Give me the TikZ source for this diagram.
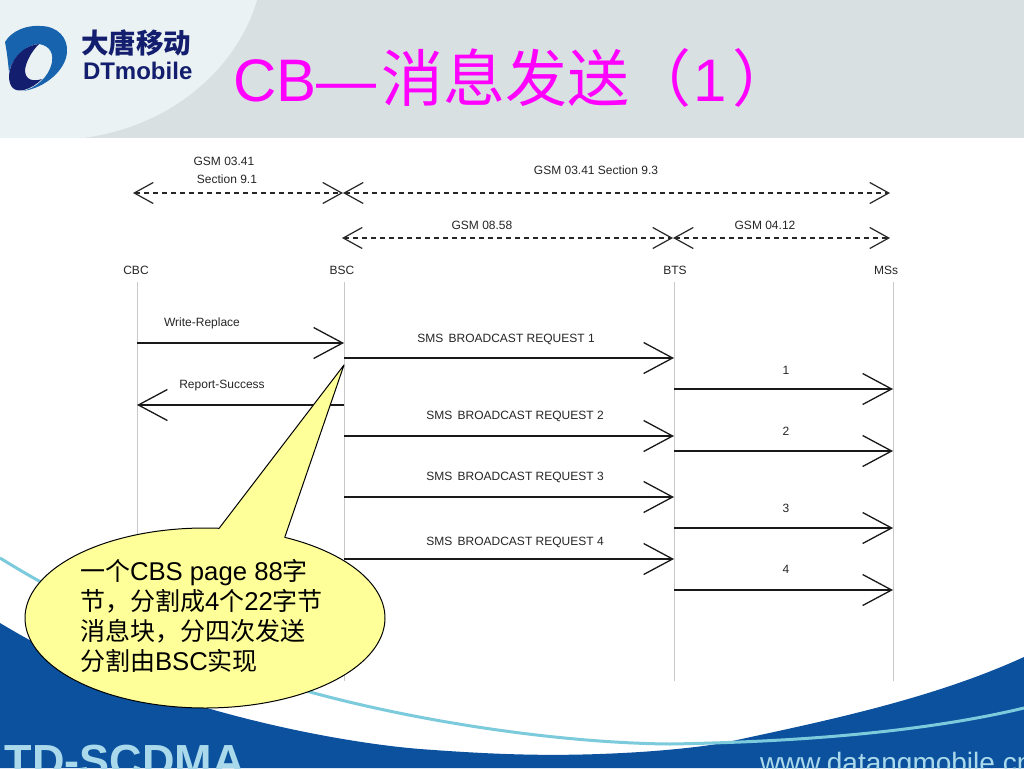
\documentclass[tikz,border=0pt]{standalone}
\usepackage{fontspec}
\setmainfont{Liberation Sans}
\newfontfamily\cjk{Noto Sans CJK SC}
\usetikzlibrary{arrows.meta}
\definecolor{bannerdark}{HTML}{D9E0E2}
\definecolor{bannerlight}{HTML}{EAF2F3}
\definecolor{waveblue}{HTML}{0B519E}
\definecolor{waveline}{HTML}{7CCBDC}
\definecolor{palecyan}{HTML}{A9D9EA}
\definecolor{logoblue}{HTML}{1763AE}
\definecolor{logonavy}{HTML}{141E6E}
\definecolor{calloutfill}{HTML}{FFFF99}
\definecolor{lifegray}{HTML}{C8C8C8}
\definecolor{titlemag}{HTML}{FF00FF}
\tikzset{
  x=1pt,y=-1pt,
  every node/.style={inner sep=0pt,outer sep=0pt},
  lab/.style={font=\fontsize{12}{14}\selectfont,text=black!85,anchor=center},
  life/.style={draw=lifegray,line width=1pt},
  msg/.style={draw=black!90,line width=1.3pt,-{Straight Barb[length=29pt,width=31pt,line width=1.3pt]}},
  span/.style={draw=black!85,line width=1.2pt,dash pattern=on 5.5pt off 3.5pt,
     {Straight Barb[length=19pt,width=21pt,line width=1.2pt]}-{Straight Barb[length=19pt,width=21pt,line width=1.2pt]}},
}
\begin{document}
\begin{tikzpicture}
\useasboundingbox (0,0) rectangle (1024,768);
\clip (0,0) rectangle (1024,768);
\fill[white] (0,0) rectangle (1024,768);
% banner
\fill[bannerdark] (0,0) rectangle (1024,138);
\fill[bannerlight] (0,0) -- (257,0) .. controls (240,60) and (180,125) .. (83,138) -- (0,138) -- cycle;
% logo
\fill[logoblue] (5,42) .. controls (12,30) and (28,25) .. (40,26) .. controls (58,26) and (68,38) .. (67,52)
  .. controls (66,70) and (45,88) .. (23,91) .. controls (35,88) and (49,78) .. (52,62)
  .. controls (54,50) and (46,44) .. (37,44) .. controls (25,46) and (12,58) .. (9,72)
  .. controls (8,62) and (7,52) .. (5,42) -- cycle;
\fill[logonavy] (39,44) .. controls (22,46) and (10,60) .. (9,76) .. controls (9,88) and (15,92) .. (24,90)
  .. controls (31,88) and (37,84) .. (42,79) .. controls (33,82) and (25,80) .. (25,70)
  .. controls (26,62) and (31,52) .. (39,44) -- cycle;
\node[anchor=base west,text=logonavy] (logocn) at (81,54) {\fontsize{27.5}{30}\selectfont\cjk\bfseries 大唐移动};
\node[anchor=base west,text=logonavy] (logoen) at (83,79) {\fontsize{24}{26}\selectfont\bfseries DTmobile};
% title
\node[anchor=base west,text=titlemag] (title) at (233,101) {\fontsize{60}{66}\selectfont CB—\kern5.5pt{\fontsize{62}{66}\selectfont\cjk 消息发送（}\kern2pt 1\kern5pt{\fontsize{62}{66}\selectfont\cjk ）}};
% waves
\fill[waveblue] (0,623) .. controls (70,665) and (140,695) .. (207,708)
  .. controls (290,732) and (370,745) .. (420,749) .. controls (500,755) and (560,757) .. (640,752)
  .. controls (670,750) and (700,747) .. (723,743) .. controls (820,722) and (930,700) .. (1024,657)
  -- (1024,768) -- (0,768) -- cycle;
\draw[waveline,line width=3pt] (0,558) .. controls (100,620) and (220,670) .. (310,692)
  .. controls (420,722) and (560,743) .. (670,744) .. controls (790,742) and (920,733) .. (1024,708);
\node[anchor=base west,text=palecyan] (tdscdma) at (5,776) {\fontsize{45}{48}\selectfont\bfseries TD-SCDMA};
\node[anchor=base west,text=palecyan] (website) at (760,772) {\fontsize{28}{30}\selectfont www.datangmobile.cn};
% lifelines
\coordinate (cbctop) at (137,282); \coordinate (cbcbot) at (137,681);
\coordinate (bsctop) at (344,282); \coordinate (bscbot) at (344,681);
\coordinate (btstop) at (674,282); \coordinate (btsbot) at (674,681);
\coordinate (mstop) at (893,282);  \coordinate (msbot) at (893,681);
\draw[life] (cbctop) -- (cbcbot);
\draw[life] (bsctop) -- (bscbot);
\draw[life] (btstop) -- (btsbot);
\draw[life] (mstop) -- (msbot);
% header labels
\node[lab] (g1) at (224,161) {GSM 03.41};
\node[lab] (g2) at (227,179) {Section 9.1};
\node[lab] (g3) at (596,170) {GSM 03.41 Section 9.3};
\node[lab] (g4) at (482,225) {GSM 08.58};
\node[lab] (g5) at (765,225) {GSM 04.12};
\node[lab] (ncbc) at (136,270) {CBC};
\node[lab] (nbsc) at (342,270) {BSC};
\node[lab] (nbts) at (675,270) {BTS};
\node[lab] (nms) at (886,270) {MSs};
% spans
\coordinate (s1a) at (133,193); \coordinate (s1b) at (343,193); \coordinate (s1c) at (890,193);
\coordinate (s2a) at (342,238); \coordinate (s2b) at (673,238); \coordinate (s2c) at (890,238);
\draw[span] (s1a) -- (s1b);
\draw[span] (s1b) -- (s1c);
\draw[span] (s2a) -- (s2b);
\draw[span] (s2b) -- (s2c);
% messages
\foreach \nm/\y in {a/343,b/358,c/389,d/405,e/436,f/451,g/497,h/528,i/559,j/590}{
  \coordinate (cbc\nm) at (137,\y);
  \coordinate (bsc\nm) at (344,\y);
  \coordinate (bts\nm) at (674,\y);
  \coordinate (ms\nm) at (893,\y);
}
\draw[msg] (cbca) -- (bsca);
\draw[msg] (bscb) -- (btsb);
\draw[msg] (btsc) -- (msc);
\draw[msg] (bscd) -- (cbcd);
\draw[msg] (bsce) -- (btse);
\draw[msg] (btsf) -- (msf);
\draw[msg] (bscg) -- (btsg);
\draw[msg] (btsh) -- (msh);
\draw[msg] (bsci) -- (btsi);
\draw[msg] (btsj) -- (msj);
% message labels
\node[lab] (m1) at (202,323.5) {Write-Replace};
\node[lab] (m2) at (222,386) {Report-Success};
\node[lab] (r1) at (506,339.5) {SMS\, BROADCAST REQUEST 1};
\node[lab] (r2) at (515,416) {SMS\, BROADCAST REQUEST 2};
\node[lab] (r3) at (515,477) {SMS\, BROADCAST REQUEST 3};
\node[lab] (r4) at (515,542) {SMS\, BROADCAST REQUEST 4};
\node[lab] (n1) at (786,370) {1};
\node[lab] (n2) at (786,431) {2};
\node[lab] (n3) at (786,508) {3};
\node[lab] (n4) at (786,569) {4};
% callout
\coordinate (tailtip) at (344,365);
\draw[draw=black,line width=1pt,fill=calloutfill,line join=round]
  plot[domain=63.7:-274.5,samples=160,smooth] ({205+180*cos(\x)},{618-90*sin(\x)}) -- (tailtip) -- cycle;
\newcommand{\lat}[1]{{\fontsize{25.7}{30}\selectfont #1}}
\node[anchor=base west,text=black] (c1) at (80,580) {\fontsize{25}{30}\selectfont{\cjk 一个}\lat{CBS page 88}{\cjk 字}};
\node[anchor=base west,text=black] (c2) at (80,610) {\fontsize{25}{30}\selectfont{\cjk 节，分割成}\lat{4}{\cjk 个}\lat{22}{\cjk 字节}};
\node[anchor=base west,text=black] (c3) at (80,640) {\fontsize{25}{30}\selectfont{\cjk 消息块，分四次发送}};
\node[anchor=base west,text=black] (c4) at (80,670) {\fontsize{25}{30}\selectfont{\cjk 分割由}\lat{BSC}{\cjk 实现}};
\end{tikzpicture}
\end{document}
